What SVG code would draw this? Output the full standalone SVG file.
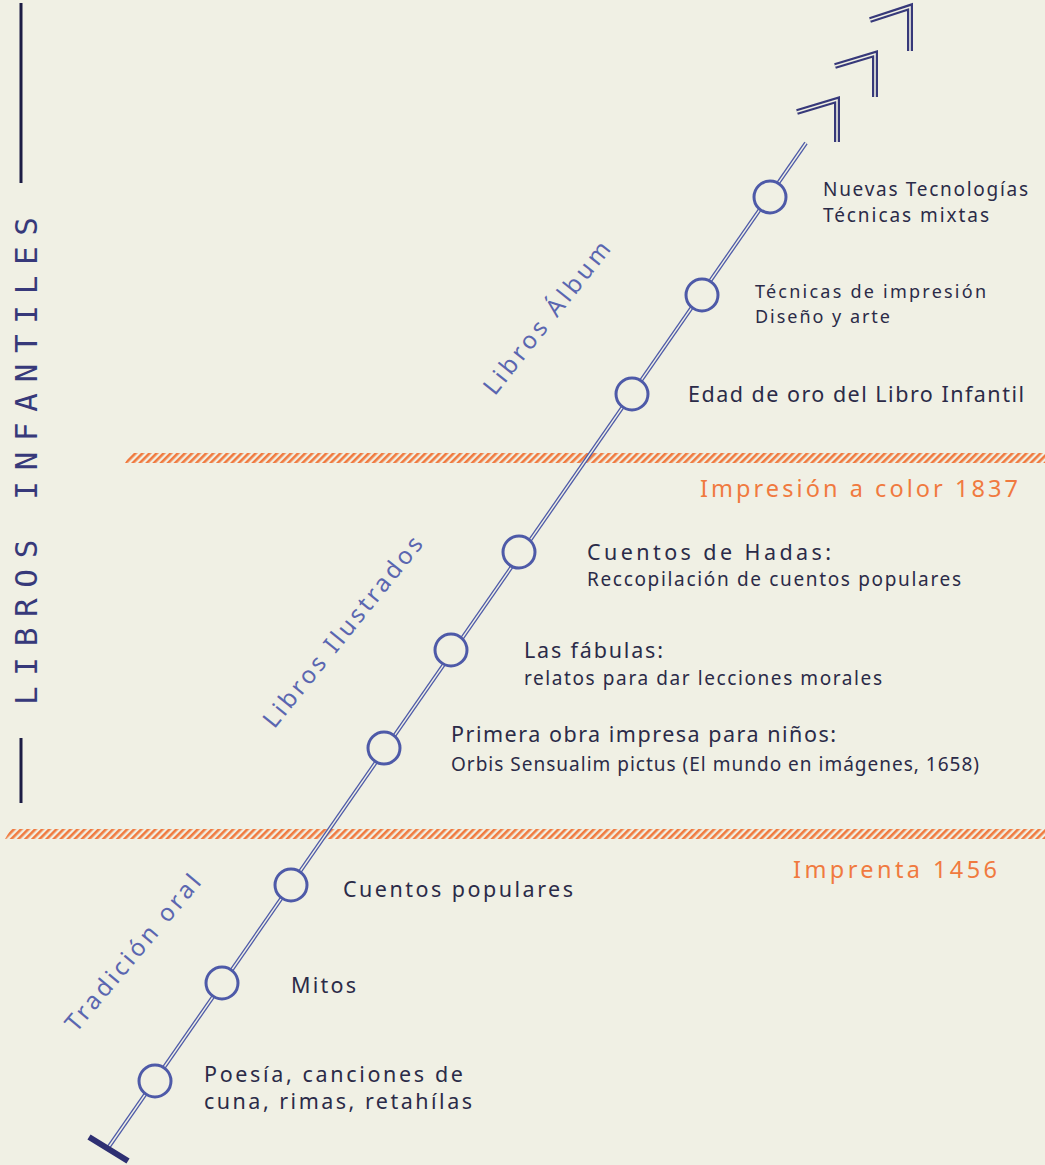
<svg xmlns="http://www.w3.org/2000/svg" width="1045" height="1165" viewBox="0 0 1045 1165">
<defs>
<pattern id="hatch" patternUnits="userSpaceOnUse" width="5" height="5" patternTransform="rotate(45)">
<rect x="0" y="0" width="2.6" height="5" fill="#f07a3f"/>
</pattern>
<style>
.lbl{font-family:"Noto Sans","Open Sans",sans-serif;fill:#2b2b48}
.big{font-size:21.5px}
.sm{font-size:19px}
.xs{font-size:18px}
.era{font-family:"Noto Sans","Open Sans",sans-serif;fill:#5a66b0;font-size:24px}
.date{font-family:"Noto Sans","Open Sans",sans-serif;fill:#f07a3f;font-size:23.5px}
.node circle{fill:#f0f0e4;stroke:#4e5aa8;stroke-width:3}
.chev{fill:none;stroke-linejoin:miter;stroke-linecap:butt}
</style>
</defs>
<rect width="1045" height="1165" fill="#f0f0e4"/>

<!-- title -->
<g id="title">
<line x1="21" y1="3" x2="21" y2="183" stroke="#1c1c44" stroke-width="3"/>
<line x1="21" y1="738" x2="21" y2="803" stroke="#1c1c44" stroke-width="3"/>
<text transform="translate(37,705) rotate(-90)" font-family="'DejaVu Sans Mono','Liberation Mono',monospace" font-size="31" fill="#37397a" textLength="488" lengthAdjust="spacing">LIBROS INFANTILES</text>
</g>

<!-- hatched bands -->
<g id="bands">
<polygon points="131,453 1045,453 1045,463 125,463" fill="url(#hatch)"/>
<polygon points="11,829 1045,829 1045,839 5,839" fill="url(#hatch)"/>
<text class="date" x="700" y="497" textLength="318" lengthAdjust="spacing">Impresión a color 1837</text>
<text class="date" x="793" y="878" textLength="204" lengthAdjust="spacing">Imprenta 1456</text>
</g>

<!-- connectors -->
<g id="connectors">
<line x1="108" y1="1148" x2="806" y2="143" stroke="#4e5aa8" stroke-width="4"/>
<line x1="108" y1="1148" x2="806" y2="143" stroke="#f0f0e4" stroke-width="1.4"/>
<line x1="89" y1="1137" x2="128" y2="1161" stroke="#2e2f72" stroke-width="6"/>
</g>

<!-- chevrons -->
<g id="chevrons">
<polyline class="chev" points="797,112 837,100 837,142" stroke="#37397a" stroke-width="6"/>
<polyline class="chev" points="797,112 837,100 837,142" stroke="#f0f0e4" stroke-width="1.6"/>
<polyline class="chev" points="835,66 875,54 875,97" stroke="#37397a" stroke-width="6"/>
<polyline class="chev" points="835,66 875,54 875,97" stroke="#f0f0e4" stroke-width="1.6"/>
<polyline class="chev" points="870,20 910,7 910,51" stroke="#37397a" stroke-width="6"/>
<polyline class="chev" points="870,20 910,7 910,51" stroke="#f0f0e4" stroke-width="1.6"/>
</g>

<!-- era labels -->
<g id="eras">
<text class="era" transform="translate(547,318) rotate(-51.5)" x="-94" dy="8" textLength="188" lengthAdjust="spacing">Libros Álbum</text>
<text class="era" transform="translate(343,632) rotate(-51)" x="-119" dy="8" textLength="238" lengthAdjust="spacing">Libros Ilustrados</text>
<text class="era" transform="translate(133,953) rotate(-50)" x="-98" dy="8" textLength="196" lengthAdjust="spacing">Tradición oral</text>
</g>

<!-- nodes -->
<g id="n1" class="node"><circle cx="155" cy="1081" r="16"/>
<text class="lbl big" x="204" y="1082" textLength="259" lengthAdjust="spacing">Poesía, canciones de</text>
<text class="lbl big" x="204" y="1109" textLength="268" lengthAdjust="spacing">cuna, rimas, retahílas</text></g>
<g id="n2" class="node"><circle cx="222" cy="983" r="16"/>
<text class="lbl big" x="291" y="993" textLength="65" lengthAdjust="spacing">Mitos</text></g>
<g id="n3" class="node"><circle cx="291" cy="885" r="16"/>
<text class="lbl big" x="343" y="897" textLength="230" lengthAdjust="spacing">Cuentos populares</text></g>
<g id="n4" class="node"><circle cx="384" cy="748" r="16"/>
<text class="lbl big" x="451" y="742" textLength="385" lengthAdjust="spacing">Primera obra impresa para niños:</text>
<text class="lbl sm" x="451" y="771" textLength="528" lengthAdjust="spacing">Orbis Sensualim pictus (El mundo en imágenes, 1658)</text></g>
<g id="n5" class="node"><circle cx="451" cy="650" r="16"/>
<text class="lbl big" x="524" y="658" textLength="139" lengthAdjust="spacing">Las fábulas:</text>
<text class="lbl sm" x="524" y="685" textLength="358" lengthAdjust="spacing">relatos para dar lecciones morales</text></g>
<g id="n6" class="node"><circle cx="519" cy="552" r="16"/>
<text class="lbl big" x="587" y="560" textLength="244" lengthAdjust="spacing">Cuentos de Hadas:</text>
<text class="lbl sm" x="587" y="586" textLength="374" lengthAdjust="spacing">Reccopilación de cuentos populares</text></g>
<g id="n7" class="node"><circle cx="632" cy="394" r="16"/>
<text class="lbl big" x="688" y="402" textLength="336" lengthAdjust="spacing">Edad de oro del Libro Infantil</text></g>
<g id="n8" class="node"><circle cx="702" cy="295" r="16"/>
<text class="lbl xs" x="755" y="298" textLength="231" lengthAdjust="spacing">Técnicas de impresión</text>
<text class="lbl xs" x="755" y="323" textLength="135" lengthAdjust="spacing">Diseño y arte</text></g>
<g id="n9" class="node"><circle cx="770" cy="197" r="16"/>
<text class="lbl sm" x="823" y="196" textLength="205" lengthAdjust="spacing">Nuevas Tecnologías</text>
<text class="lbl sm" x="823" y="222" textLength="166" lengthAdjust="spacing">Técnicas mixtas</text></g>
</svg>
